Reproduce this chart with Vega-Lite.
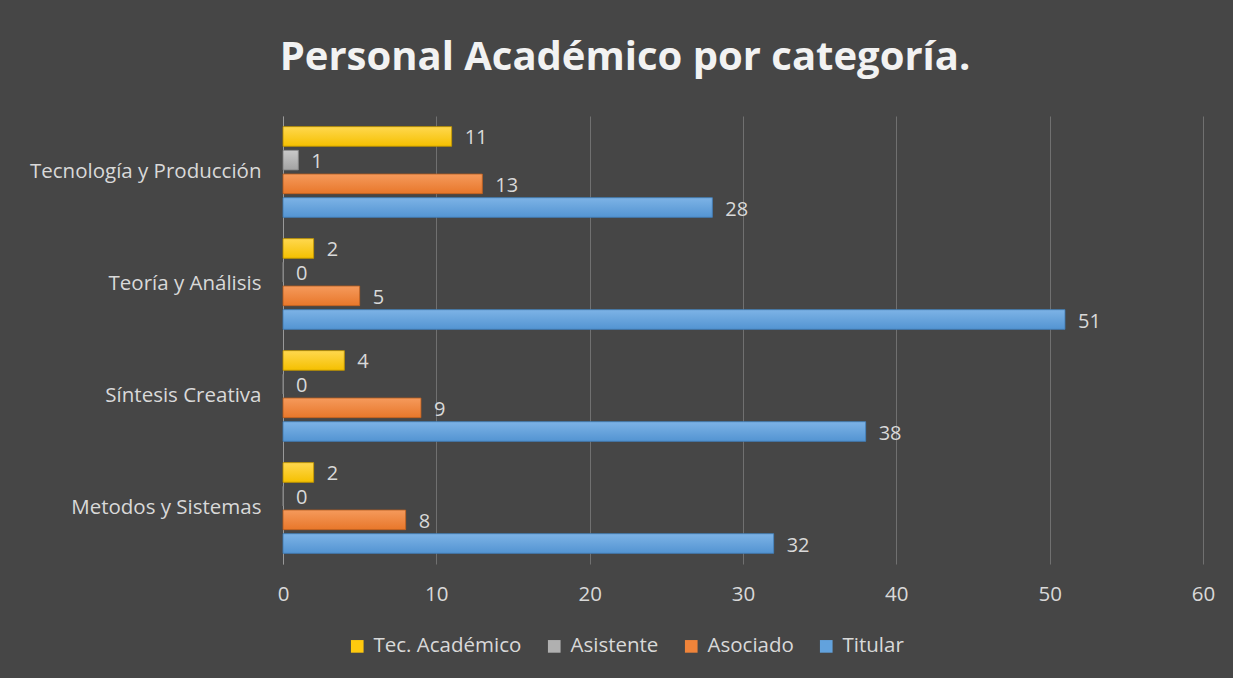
{
  "$schema": "https://vega.github.io/schema/vega-lite/v6.json",
  "autosize": {"type": "none"},
  "width": 920,
  "height": 448,
  "padding": {"left": 283, "top": 116, "right": 30, "bottom": 114},
  "background": "#464646",
  "title": {
    "text": "Personal Académico por categoría.",
    "anchor": "middle",
    "dx": -118,
    "offset": 38,
    "font": "Open Sans",
    "fontSize": 40,
    "fontWeight": "bold",
    "color": "#f2f2f2"
  },
  "data": {
    "values": [
      {"area": "Tecnología y Producción", "categoria": "Tec. Académico", "valor": 11},
      {"area": "Tecnología y Producción", "categoria": "Asistente", "valor": 1},
      {"area": "Tecnología y Producción", "categoria": "Asociado", "valor": 13},
      {"area": "Tecnología y Producción", "categoria": "Titular", "valor": 28},
      {"area": "Teoría y Análisis", "categoria": "Tec. Académico", "valor": 2},
      {"area": "Teoría y Análisis", "categoria": "Asistente", "valor": 0},
      {"area": "Teoría y Análisis", "categoria": "Asociado", "valor": 5},
      {"area": "Teoría y Análisis", "categoria": "Titular", "valor": 51},
      {"area": "Síntesis Creativa", "categoria": "Tec. Académico", "valor": 4},
      {"area": "Síntesis Creativa", "categoria": "Asistente", "valor": 0},
      {"area": "Síntesis Creativa", "categoria": "Asociado", "valor": 9},
      {"area": "Síntesis Creativa", "categoria": "Titular", "valor": 38},
      {"area": "Metodos y Sistemas", "categoria": "Tec. Académico", "valor": 2},
      {"area": "Metodos y Sistemas", "categoria": "Asistente", "valor": 0},
      {"area": "Metodos y Sistemas", "categoria": "Asociado", "valor": 8},
      {"area": "Metodos y Sistemas", "categoria": "Titular", "valor": 32}
    ]
  },
  "encoding": {
    "y": {
      "field": "area",
      "type": "nominal",
      "sort": ["Tecnología y Producción", "Teoría y Análisis", "Síntesis Creativa", "Metodos y Sistemas"],
      "scale": {"paddingInner": 0.19, "paddingOuter": 0.095},
      "axis": {
        "title": null,
        "ticks": false,
        "domain": true,
        "domainColor": "#999999",
        "domainWidth": 1,
        "labelPadding": 22,
        "labelFont": "Open Sans",
        "labelFontSize": 20.5,
        "labelColor": "#d9d9d9",
        "labelLimit": 300
      }
    },
    "yOffset": {
      "field": "categoria",
      "type": "nominal",
      "sort": ["Tec. Académico", "Asistente", "Asociado", "Titular"],
      "scale": {"paddingInner": 0.17, "paddingOuter": 0}
    },
    "x": {
      "field": "valor",
      "type": "quantitative",
      "scale": {"domain": [0, 60]},
      "axis": {
        "title": null,
        "values": [0, 10, 20, 30, 40, 50, 60],
        "labelOverlap": false,
        "labelFlush": false,
        "domain": false,
        "ticks": false,
        "grid": true,
        "gridColor": "#707070",
        "gridWidth": 1,
        "labelPadding": 20,
        "labelFont": "Open Sans",
        "labelFontSize": 20.5,
        "labelColor": "#d9d9d9"
      }
    }
  },
  "layer": [
    {
      "mark": {"type": "bar"},
      "encoding": {
        "color": {
          "field": "categoria",
          "type": "nominal",
          "sort": ["Tec. Académico", "Asistente", "Asociado", "Titular"],
          "scale": {
            "domain": ["Tec. Académico", "Asistente", "Asociado", "Titular"],
            "range": ["#ffc90e", "#b0b0b0", "#f0843a", "#62a2dd"]
          },
          "legend": {
            "title": null,
            "orient": "none",
            "direction": "horizontal",
            "legendX": 64,
            "legendY": 520,
            "symbolType": "square",
            "symbolSize": 160,
            "symbolStrokeWidth": 0,
            "labelFont": "Open Sans",
            "labelFontSize": 20.5,
            "labelColor": "#d9d9d9",
            "columnPadding": 22,
            "labelOffset": 6
          }
        }
      }
    },
    {
      "transform": [{"filter": "datum.categoria === 'Tec. Académico'"}],
      "mark": {
        "type": "bar",
        "stroke": "#b38a00", "strokeWidth": 0.8,
        "fill": {"gradient": "linear", "x1": 0, "y1": 0, "x2": 0, "y2": 1,
          "stops": [{"offset": 0, "color": "#ffd84f"}, {"offset": 1, "color": "#f5c000"}]}
      }
    },
    {
      "transform": [{"filter": "datum.categoria === 'Asistente'"}],
      "mark": {
        "type": "bar",
        "stroke": "#7f7f7f", "strokeWidth": 0.8,
        "fill": {"gradient": "linear", "x1": 0, "y1": 0, "x2": 0, "y2": 1,
          "stops": [{"offset": 0, "color": "#c9c9c9"}, {"offset": 1, "color": "#a3a3a3"}]}
      }
    },
    {
      "transform": [{"filter": "datum.categoria === 'Asociado'"}],
      "mark": {
        "type": "bar",
        "stroke": "#b35a1e", "strokeWidth": 0.8,
        "fill": {"gradient": "linear", "x1": 0, "y1": 0, "x2": 0, "y2": 1,
          "stops": [{"offset": 0, "color": "#f59a5c"}, {"offset": 1, "color": "#e8772a"}]}
      }
    },
    {
      "transform": [{"filter": "datum.categoria === 'Titular'"}],
      "mark": {
        "type": "bar",
        "stroke": "#3f78b0", "strokeWidth": 0.8,
        "fill": {"gradient": "linear", "x1": 0, "y1": 0, "x2": 0, "y2": 1,
          "stops": [{"offset": 0, "color": "#7db3e6"}, {"offset": 1, "color": "#5394d2"}]}
      }
    },
    {
      "mark": {
        "type": "text",
        "align": "left",
        "baseline": "middle",
        "dx": 13,
        "dy": 2,
        "font": "Open Sans",
        "fontSize": 20,
        "color": "#d9d9d9"
      },
      "encoding": {
        "text": {"field": "valor", "type": "quantitative"}
      }
    }
  ],
  "config": {
    "view": {"stroke": null}
  }
}
